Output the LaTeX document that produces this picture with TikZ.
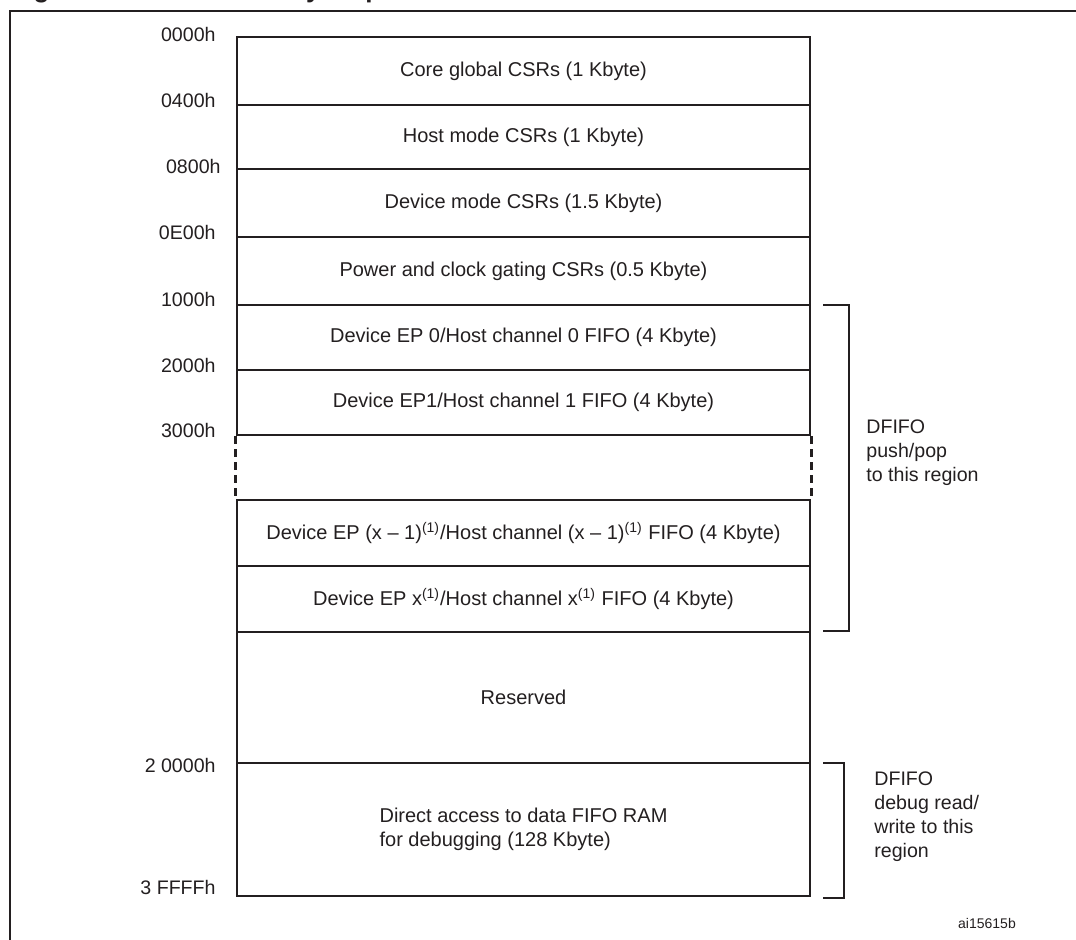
\documentclass[tikz,border=0pt]{standalone}
\usepackage{fontspec}
\setmainfont{Liberation Sans}
\definecolor{ink}{RGB}{35,31,32}
\begin{document}
\begin{tikzpicture}[x=0.5pt,y=-0.5pt,
  region/.style={draw=ink, line width=1.3pt, minimum width=286.5pt, inner sep=0pt,
    font=\fontsize{10}{12}\selectfont, text=ink},
  addr/.style={anchor=east, inner sep=0pt, font=\fontsize{9.8}{12}\selectfont, text=ink},
  bracket/.style={draw=ink, line width=0.6pt},
  gapline/.style={draw=ink, line width=1.5pt, dash pattern=on 4pt off 2.5pt},
  note/.style={anchor=west, align=left, inner sep=0pt, font=\fontsize{9.8}{12}\selectfont, text=ink}]
\useasboundingbox (0,0) rectangle (1076,940);

% cropped caption and outer frame
\node[anchor=base west, inner sep=0pt, font=\bfseries\fontsize{13}{15}\selectfont, text=ink] (title) at (10,-2) {Figure 388. CSR memory map};
\draw[ink, line width=1pt] (10,11) rectangle (1110,980);

% memory regions
\node[region, minimum height=34pt]   (r1)  at (523.5,71)    {Core global CSRs (1 Kbyte)};
\node[region, minimum height=32pt]   (r2)  at (523.5,137)   {Host mode CSRs (1 Kbyte)};
\node[region, minimum height=34pt]   (r3)  at (523.5,203)   {Device mode CSRs (1.5 Kbyte)};
\node[region, minimum height=34pt]   (r4)  at (523.5,271)   {Power and clock gating CSRs (0.5 Kbyte)};
\node[region, minimum height=32.5pt] (r5)  at (523.5,337.5) {Device EP 0/Host channel 0 FIFO (4 Kbyte)};
\node[region, minimum height=32.5pt] (r6)  at (523.5,402.5) {Device EP1/Host channel 1 FIFO (4 Kbyte)};
\node[region, minimum height=33pt]   (r7)  at (523.5,533)   {Device EP (x -- 1)\textsuperscript{(1)}/Host channel (x -- 1)\textsuperscript{(1)} FIFO (4 Kbyte)};
\node[region, minimum height=33pt]   (r8)  at (523.5,599)   {Device EP x\textsuperscript{(1)}/Host channel x\textsuperscript{(1)} FIFO (4 Kbyte)};
\node[region, minimum height=65.5pt] (r9)  at (523.5,697.5) {Reserved};
\node[region, minimum height=66.5pt, align=left] (r10) at (523.5,829.5) {Direct access to data FIFO RAM\\for debugging (128 Kbyte)};

% elided part
\draw[gapline] (r6.south west) -- (r7.north west);
\draw[gapline] (r6.south east) -- (r7.north east);

% addresses
\node[addr] (a0) at (216,35)  {0000h};
\node[addr] (a1) at (216,101) {0400h};
\node[addr] (a2) at (221,166) {0800h};
\node[addr] (a3) at (216,232) {0E00h};
\node[addr] (a4) at (216,299) {1000h};
\node[addr] (a5) at (216,365) {2000h};
\node[addr] (a6) at (216,430) {3000h};
\node[addr] (a7) at (216,765) {2 0000h};
\node[addr] (a8) at (216,887) {3 FFFFh};

% brackets
\coordinate (b1t) at (823,305);
\coordinate (b1b) at (823,631);
\draw[bracket] (b1t) -- (849,305) -- (849,631) -- (b1b);
\coordinate (b2t) at (823,763);
\coordinate (b2b) at (823,898);
\draw[bracket] (b2t) -- (844,763) -- (844,898) -- (b2b);

\node[note] (n1) at (866,453) {DFIFO\\push/pop\\to this region};
\node[note] (n2) at (874,817) {DFIFO\\debug read/\\write to this\\region};

\node[inner sep=0pt, font=\fontsize{7}{8}\selectfont, text=ink] (id) at (987,923) {ai15615b};
\end{tikzpicture}
\end{document}
